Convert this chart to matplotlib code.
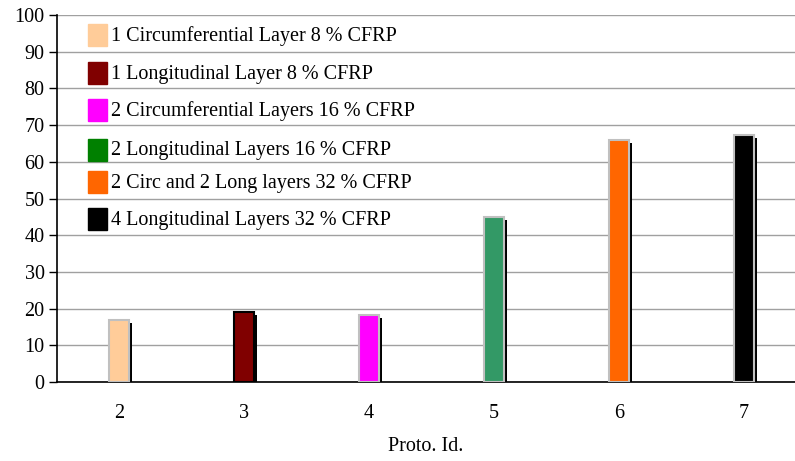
import numpy as np
import matplotlib.pyplot as plt
from matplotlib.patches import Rectangle

plt.rcParams['font.family'] = ['Liberation Serif', 'DejaVu Serif']

# Data
proto_ids = ['2', '3', '4', '5', '6', '7']
values = [17, 19, 18.3, 45, 66, 67.3]
bar_colors = ['#FFCC99', '#800000', '#FF00FF', '#339966', '#FF6600', '#000000']
edge_colors = ['#C0C0C0', '#000000', '#C0C0C0', '#C0C0C0', '#C0C0C0', '#C0C0C0']
legend_labels = ['1 Circumferential Layer 8 % CFRP',
                 '1 Longitudinal Layer 8 % CFRP',
                 '2 Circumferential Layers 16 % CFRP',
                 '2 Longitudinal Layers 16 % CFRP',
                 '2 Circ and 2 Long layers 32 % CFRP',
                 '4 Longitudinal Layers 32 % CFRP']
legend_colors = ['#FFCC99', '#800000', '#FF00FF', '#008000', '#FF6600', '#000000']

fig = plt.figure(figsize=(7.95, 4.61), dpi=100)
ax = fig.add_axes([57/795, 1-382/461, 738/795, 367/461])

x = np.arange(len(proto_ids))
w = 0.16
# shadow behind each bar
ax.bar(x + 0.025, np.array(values) - 0.8, width=w, color='black', zorder=2)
ax.bar(x, values, width=w, color=bar_colors, edgecolor=edge_colors,
       linewidth=1.5, zorder=3)

ax.set_xlim(-0.496, 5.408)
ax.set_ylim(0, 100)
ax.set_yticks(np.arange(0, 101, 10))
ax.set_xticks(x)
ax.set_xticklabels(proto_ids)
ax.tick_params(axis='x', length=0, pad=16, labelsize=14.5)
ax.tick_params(axis='y', length=6, width=1, direction='out', labelsize=14.5, pad=3)
ax.yaxis.grid(True, color='#A0A0A0', linewidth=1)
ax.set_axisbelow(True)
for s in ['top', 'right']:
    ax.spines[s].set_visible(False)
ax.spines['left'].set_linewidth(1.2)
ax.spines['bottom'].set_linewidth(1.2)
ax.set_xlabel('Proto. Id.', fontsize=14.5, labelpad=10)

# legend drawn as swatches + text (uneven spacing in original)
leg_y = [35, 73, 110, 150, 182, 219]
for yy, lab, col in zip(leg_y, legend_labels, legend_colors):
    fig.patches.append(Rectangle((88/795, 1-(yy+11)/461), 19/795, 22/461,
                                 color=col, transform=fig.transFigure, zorder=5))
    fig.text(111/795, 1-(yy+1)/461, lab, fontsize=14.5, va='center', ha='left', zorder=6)

plt.savefig('out.png', dpi=100)
